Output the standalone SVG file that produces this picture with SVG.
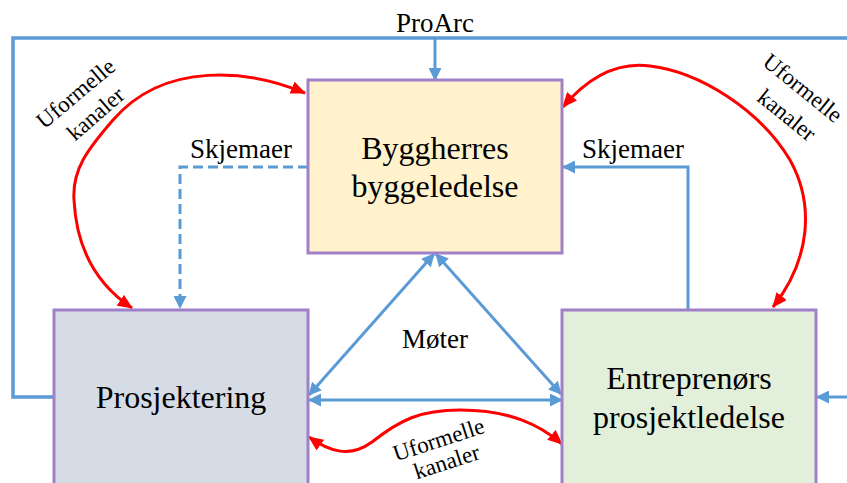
<svg xmlns="http://www.w3.org/2000/svg" width="847" height="483" viewBox="0 0 847 483">
<style>
.box{stroke:#9F80C9;stroke-width:3}
.nt{font-family:"Liberation Serif","Times New Roman",Times,serif;font-size:32px;fill:#000;text-anchor:middle}
.lb{font-family:"Liberation Serif","Times New Roman",Times,serif;font-size:27px;fill:#000;text-anchor:middle}
.uk{font-family:"Liberation Serif","Times New Roman",Times,serif;font-size:23px;fill:#000;text-anchor:middle}
.bl{fill:none;stroke:#5B9BD5;stroke-width:3}
.rd{fill:none;stroke:#FF0000;stroke-width:3}
</style>
<defs>
<marker id="ab" markerUnits="userSpaceOnUse" viewBox="0 0 13 13" markerWidth="13" markerHeight="13" refX="12" refY="6.5" orient="auto-start-reverse">
<path d="M0,0 L13,6.5 L0,13 z" fill="#5B9BD5"/>
</marker>
<marker id="ar" markerUnits="userSpaceOnUse" viewBox="0 0 15 13" markerWidth="15" markerHeight="13" refX="14" refY="6.5" orient="auto-start-reverse">
<path d="M0,0 L15,6.5 L0,13 z" fill="#FF0000"/>
</marker>
</defs>

<g id="connectors">
<path class="bl" style="stroke-width:3.5" d="M54,397 H13 V38 H847"/>
<path class="bl" d="M435,38 V80" marker-end="url(#ab)"/>
<path class="bl" d="M847,397 H817" marker-end="url(#ab)"/>
<path class="bl" d="M688,310 V167 H563" marker-end="url(#ab)"/>
<path class="bl" style="stroke-dasharray:10 5" d="M308,167 H180 V308" marker-end="url(#ab)"/>
<path class="bl" d="M434,254 L309,395" marker-start="url(#ab)" marker-end="url(#ab)"/>
<path class="bl" d="M436,254 L561,394" marker-start="url(#ab)" marker-end="url(#ab)"/>
<path class="bl" d="M309,400 H562" marker-start="url(#ab)" marker-end="url(#ab)"/>
<path class="rd" d="M305,93 C250,70 165,60 113,120 C87,150 72,170 74,200 C76,240 90,280 132,308" marker-start="url(#ar)" marker-end="url(#ar)"/>
<path class="rd" d="M563,107 C590,75 620,62 650,66 C700,72 760,110 790,160 C815,205 810,260 773,307" marker-start="url(#ar)" marker-end="url(#ar)"/>
<path class="rd" d="M309,437 C330,452 350,458 372,442 C400,420 420,410 460,410 C510,410 540,425 562,444" marker-start="url(#ar)" marker-end="url(#ar)"/>
<text class="lb" x="435" y="32">ProArc</text>
<text class="lb" x="241" y="158">Skjemaer</text>
<text class="lb" x="633" y="158">Skjemaer</text>
<text class="lb" x="435" y="348">Møter</text>
<text class="uk" transform="translate(80.5,99.4) rotate(-40)">Uformelle</text>
<text class="uk" transform="translate(100.5,119.5) rotate(-41)">kanaler</text>
<text class="uk" transform="translate(798,94) rotate(39)">Uformelle</text>
<text class="uk" transform="translate(782,121) rotate(39)">kanaler</text>
<text class="uk" transform="translate(441,447) rotate(-18)">Uformelle</text>
<text class="uk" transform="translate(449,469) rotate(-18)">kanaler</text>
</g>

<g id="byggherre">
<rect class="box" x="308" y="80" width="254" height="173" fill="#FFF2CC"/>
<text class="nt" x="435" y="159">Byggherres</text>
<text class="nt" x="435" y="197">byggeledelse</text>
</g>

<g id="prosjektering">
<rect class="box" x="54" y="310" width="254" height="190" fill="#D6DCE5"/>
<text class="nt" x="181" y="408">Prosjektering</text>
</g>

<g id="entreprenor">
<rect class="box" x="562" y="310" width="254" height="190" fill="#E2EFDA"/>
<text class="nt" x="689" y="389">Entreprenørs</text>
<text class="nt" x="689" y="428">prosjektledelse</text>
</g>
</svg>
